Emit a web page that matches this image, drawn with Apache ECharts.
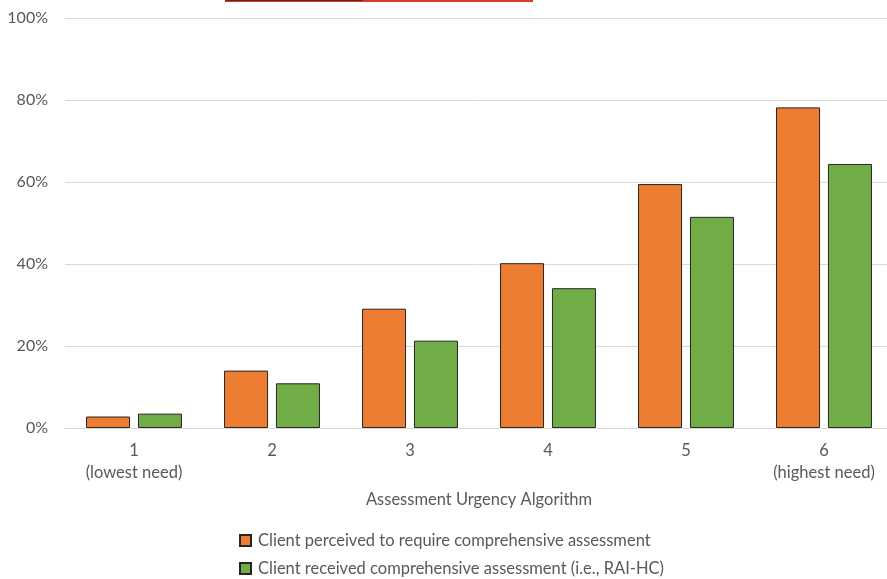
<!DOCTYPE html>
<html>
<head>
<meta charset="utf-8">
<script src="https://cdn.jsdelivr.net/npm/echarts@6/dist/echarts.min.js"></script>
<style>
  html, body { margin: 0; padding: 0; background: #fff; }
  #chart { width: 887px; height: 579px; }
</style>
</head>
<body>
<div id="chart"></div>
<script>
// Assessment urgency levels (1 = lowest need, 6 = highest need)
const categories = ['1\n(lowest need)', '2', '3', '4', '5', '6\n(highest need)'];
// Share of clients (%) per urgency level
const perceivedNeed = [2.8, 14.0, 29.1, 40.2, 59.5, 78.2];
const receivedRaiHc = [3.5, 10.9, 21.3, 34.1, 51.5, 64.4];
const seriesNames = [
  'Client perceived to require comprehensive assessment',
  'Client received comprehensive assessment (i.e., RAI-HC)'
];
const yTicks = { min: 0, max: 100, interval: 20 };

const font = 'Lato, "Open Sans", sans-serif';
const textGrey = '#595959';

const legendCommon = {
  orient: 'vertical',
  left: 234,
  itemWidth: 11,
  itemHeight: 11,
  icon: 'rect',
  textStyle: { color: textGrey, fontSize: 16.5, fontFamily: font, padding: [0, 0, 0, 2] }
};

const chart = echarts.init(document.getElementById('chart'), null, { renderer: 'canvas' });
chart.setOption({
  animation: false,
  textStyle: { fontFamily: font },
  grid: { left: 65, top: 18, width: 828, height: 410, containLabel: false, outerBoundsMode: 'none' },
  xAxis: {
    type: 'category',
    data: categories,
    axisTick: { show: false },
    axisLine: { lineStyle: { color: '#d9d9d9', width: 1 } },
    axisLabel: { color: textGrey, fontSize: 16.5, fontFamily: font, lineHeight: 22, margin: 12 },
    name: 'Assessment Urgency Algorithm',
    nameLocation: 'middle',
    nameGap: 63,
    nameTextStyle: { color: textGrey, fontSize: 16.5, fontFamily: font }
  },
  yAxis: {
    type: 'value',
    min: yTicks.min,
    max: yTicks.max,
    interval: yTicks.interval,
    axisLine: { show: false },
    axisTick: { show: false },
    splitLine: { lineStyle: { color: '#d9d9d9', width: 1 } },
    axisLabel: { color: textGrey, fontSize: 16, fontFamily: font, margin: 17, formatter: '{value}%' }
  },
  legend: [
    Object.assign({ top: 527, data: [seriesNames[0]] }, legendCommon),
    Object.assign({ top: 555, data: [seriesNames[1]] }, legendCommon)
  ],
  series: [
    {
      name: seriesNames[0],
      type: 'bar',
      data: perceivedNeed,
      barWidth: 44,
      barGap: '18%',
      itemStyle: { color: '#ed7d31', borderColor: '#262626', borderWidth: 1 }
    },
    {
      name: seriesNames[1],
      type: 'bar',
      data: receivedRaiHc,
      barWidth: 44,
      barGap: '18%',
      itemStyle: { color: '#70ad47', borderColor: '#262626', borderWidth: 1 }
    }
  ],
  graphic: [
    { type: 'rect', left: 225, top: 0, shape: { width: 308, height: 2 }, style: { fill: '#d93a2e' } },
    { type: 'rect', left: 225, top: 0, shape: { width: 138, height: 1 }, style: { fill: '#5a2a22' } }
  ]
});
</script>
</body>
</html>
